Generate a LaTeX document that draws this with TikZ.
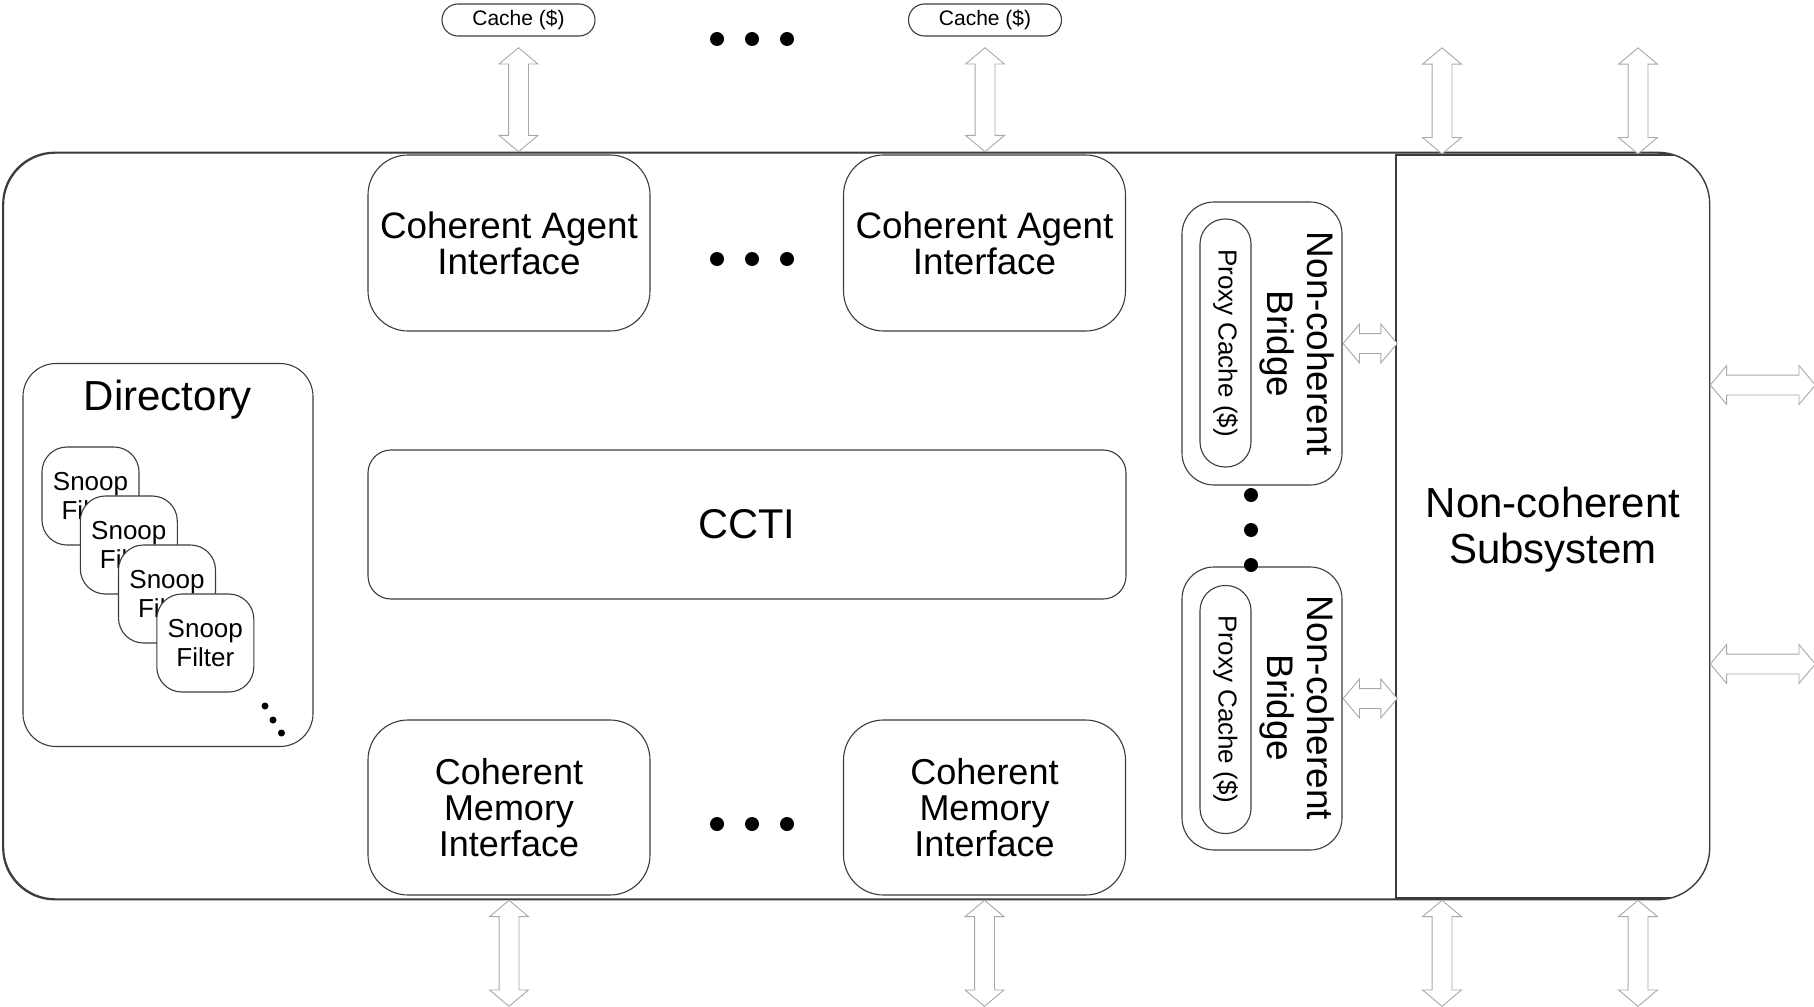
\documentclass[tikz,border=0pt]{standalone}
\usepackage{fontspec}
\setmainfont{Liberation Sans}
\usetikzlibrary{shapes.arrows,calc}
\definecolor{edgegray}{HTML}{3C3C3C}
\definecolor{linkgray}{HTML}{A8A8A8}
\tikzset{
  blk/.style={draw=edgegray, line width=1.1pt, fill=white, align=center, inner sep=0pt},
  iface/.style={blk, rounded corners=40pt, minimum width=282pt, minimum height=176pt,
    font=\fontsize{36.8}{36}\selectfont},
  memif/.style={iface, minimum height=175pt, font=\fontsize{36}{36}\selectfont},
  cachebox/.style={blk, rounded corners=16pt, minimum width=153pt, minimum height=32pt,
    font=\fontsize{21}{24}\selectfont},
  snoop/.style={blk, rounded corners=25pt, minimum width=97pt, minimum height=98pt,
    font=\fontsize{26}{29}\selectfont},
  bridgebox/.style={blk, rounded corners=32pt, minimum width=160pt, minimum height=283pt},
  proxybox/.style={blk, rounded corners=25pt, minimum width=248pt, minimum height=51pt,
    rotate=-90, font=\fontsize{26}{29}\selectfont},
  bridgelbl/.style={rotate=-90, align=center, inner sep=0pt, font=\fontsize{37}{40}\selectfont},
  dbl/.style={double arrow, draw=linkgray, line width=0.9pt, fill=white,
    inner xsep=0pt, inner ysep=9.5pt, minimum width=38pt,
    double arrow head extend=9.5pt, double arrow tip angle=100},
  vdbl/.style={dbl, rotate=90},
  dot/.style={circle, fill=black, inner sep=0pt, minimum size=14pt},
  smalldot/.style={circle, fill=black, inner sep=0pt, minimum size=7pt},
}
\begin{document}
\begin{tikzpicture}[x=1pt, y=-1pt]
\useasboundingbox (0,0) rectangle (1814,1006);

% chip outline
\node[blk, line width=1.4pt, rounded corners=52pt, minimum width=1705.5pt, minimum height=746pt]
  (chip) at (856.25,526) {};

% non-coherent subsystem, sharing the right-hand rounded corners of the chip
\begin{scope}
  \clip[rounded corners=52pt] (chip.south west) rectangle (chip.north east);
  \node[blk, minimum width=316pt, minimum height=743pt] (ncs) at (1554,526.5) {};
\end{scope}
\draw[edgegray, line width=1.4pt, rounded corners=52pt] (chip.south west) rectangle (chip.north east);
\node[align=center, inner sep=0pt, font=\fontsize{42}{46}\selectfont]
  (ncslbl) at (1553,530) {Non-coherent\\Subsystem};

% external caches
\node[cachebox] (cache1) at (518.5,20) {Cache (\$)};
\node[cachebox] (cache2) at (985,20) {Cache (\$)};

% coherent agent interfaces
\node[iface] (cai1) at (509,243) {Coherent Agent\\Interface};
\node[iface] (cai2) at (984.5,243) {Coherent Agent\\Interface};

% interconnect
\node[blk, rounded corners=23pt, minimum width=758pt, minimum height=149pt,
  font=\fontsize{41.6}{44}\selectfont] (ccti) at (747,524.5) {CCTI};

% coherent memory interfaces
\node[memif] (cmi1) at (509,807.5) {Coherent\\Memory\\Interface};
\node[memif] (cmi2) at (984.5,807.5) {Coherent\\Memory\\Interface};

% directory with stacked snoop filters
\node[blk, rounded corners=33pt, minimum width=290pt, minimum height=383pt] (dir) at (168,555) {};
\node[font=\fontsize{42}{45}\selectfont, inner sep=0pt] (dirlbl) at (168,400) {Directory};
\node[snoop] (sf1) at (90.5,496) {Snoop\\Filter};
\node[snoop] (sf2) at (128.8,545) {Snoop\\Filter};
\node[snoop] (sf3) at (167,594) {Snoop\\Filter};
\node[snoop] (sf4) at (205.3,643) {Snoop\\Filter};
\node[smalldot] (sfd1) at (265,706) {};
\node[smalldot] (sfd2) at (273,720) {};
\node[smalldot] (sfd3) at (281.5,733) {};

% non-coherent bridges with proxy caches
\node[bridgebox] (br1) at (1262,343.5) {};
\node[proxybox] (px1) at (1225.5,343) {Proxy Cache (\$)};
\node[bridgelbl] (br1lbl) at (1297,344) {Non-coherent\\Bridge};
\node[bridgebox] (br2) at (1262,708.5) {};
\node[proxybox] (px2) at (1225.5,709.5) {Proxy Cache (\$)};
\node[bridgelbl] (br2lbl) at (1297,708) {Non-coherent\\Bridge};

% bidirectional links
\coordinate (nx1) at (1442,0);
\coordinate (nx2) at (1638,0);
\node[vdbl, minimum height=104pt, anchor=west] (lc1) at (chip.north -| cache1) {};
\node[vdbl, minimum height=104pt, anchor=west] (lc2) at (chip.north -| cache2) {};
\node[vdbl, minimum height=106pt, anchor=west] (ln1) at (ncs.north -| nx1) {};
\node[vdbl, minimum height=106pt, anchor=west] (ln2) at (ncs.north -| nx2) {};
\node[vdbl, minimum height=106pt, anchor=east] (lm1) at (chip.south -| cmi1) {};
\node[vdbl, minimum height=106pt, anchor=east] (lm2) at (chip.south -| cmi2) {};
\node[vdbl, minimum height=106pt, anchor=east] (ls1) at (chip.south -| nx1) {};
\node[vdbl, minimum height=106pt, anchor=east] (ls2) at (chip.south -| nx2) {};
\node[dbl, minimum height=105pt, anchor=west] (lr1) at ([yshift=141pt]chip.east) {};
\node[dbl, minimum height=105pt, anchor=west] (lr2) at ([yshift=-138pt]chip.east) {};
\node[dbl, minimum height=54pt, anchor=west] (lb1) at (br1.east) {};
\node[dbl, minimum height=54pt, anchor=west] (lb2) at ([yshift=10pt]br2.east) {};

% ellipses
\node[dot] at (717,39) {};
\node[dot] at (752,39) {};
\node[dot] at (787,39) {};
\node[dot] at (717,259) {};
\node[dot] at (752,259) {};
\node[dot] at (787,259) {};
\node[dot] at (717,824) {};
\node[dot] at (752,824) {};
\node[dot] at (787,824) {};
\node[dot] at (1251,495) {};
\node[dot] at (1251,530) {};
\node[dot] at (1251,565) {};
\end{tikzpicture}
\end{document}
